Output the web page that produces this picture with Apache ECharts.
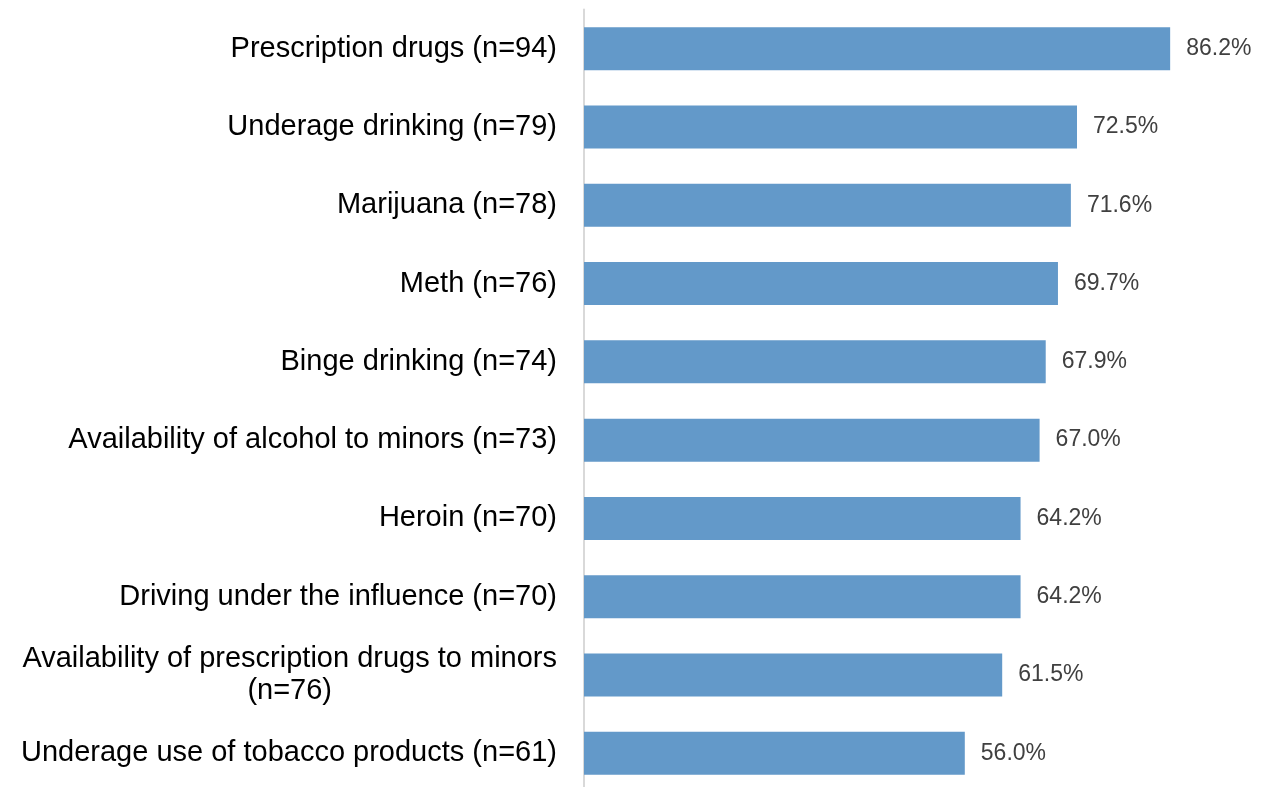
<!DOCTYPE html>
<html>
<head>
<meta charset="utf-8">
<script src="https://cdn.jsdelivr.net/npm/echarts@6/dist/echarts.min.js"></script>
<style>
  html, body { margin: 0; padding: 0; background: #fff; overflow: hidden; }
  #chart { width: 1265px; height: 800px; }
</style>
</head>
<body>
<div id="chart"></div>
<script>
// categories, top to bottom
const categories = [
  "Prescription drugs (n=94)",
  "Underage drinking (n=79)",
  "Marijuana (n=78)",
  "Meth (n=76)",
  "Binge drinking (n=74)",
  "Availability of alcohol to minors (n=73)",
  "Heroin (n=70)",
  "Driving under the influence (n=70)",
  "Availability of prescription drugs to minors\n(n=76)",
  "Underage use of tobacco products (n=61)"
];
const values = [86.2, 72.5, 71.6, 69.7, 67.9, 67.0, 64.2, 64.2, 61.5, 56.0];

const chart = echarts.init(document.getElementById("chart"));

// the plot runs a little past the bottom edge of the window, like the original
const option = {
  animation: false,
  grid: {
    left: 584,
    right: 1,
    top: 9.5,
    bottom: 7.5
  },
  xAxis: {
    type: "value",
    min: 0,
    max: 100,
    show: false
  },
  yAxis: {
    type: "category",
    inverse: true,
    data: categories,
    axisLine: {
      show: true,
      lineStyle: { color: "#d9d9d9", width: 2 }
    },
    axisTick: { show: false },
    axisLabel: {
      margin: 27,
      fontFamily: "Liberation Sans",
      fontSize: 29,
      color: "#000",
      lineHeight: 32,
      // multi-line labels: center each line inside the block
      formatter: function (value) {
        return value.split("\n").map(function (s) { return "{c|" + s + "}"; }).join("\n");
      },
      rich: {
        c: {
          align: "center",
          fontFamily: "Liberation Sans",
          fontSize: 29,
          color: "#000",
          lineHeight: 32
        }
      }
    }
  },
  series: [
    {
      type: "bar",
      data: values,
      barWidth: 43,
      itemStyle: { color: "#6399c9" },
      label: {
        show: true,
        position: "right",
        distance: 16,
        fontFamily: "Liberation Sans",
        fontSize: 23,
        color: "#404040",
        formatter: function (p) {
          return p.value.toFixed(1) + "%";
        }
      }
    }
  ]
};

chart.setOption(option);
</script>
</body>
</html>
